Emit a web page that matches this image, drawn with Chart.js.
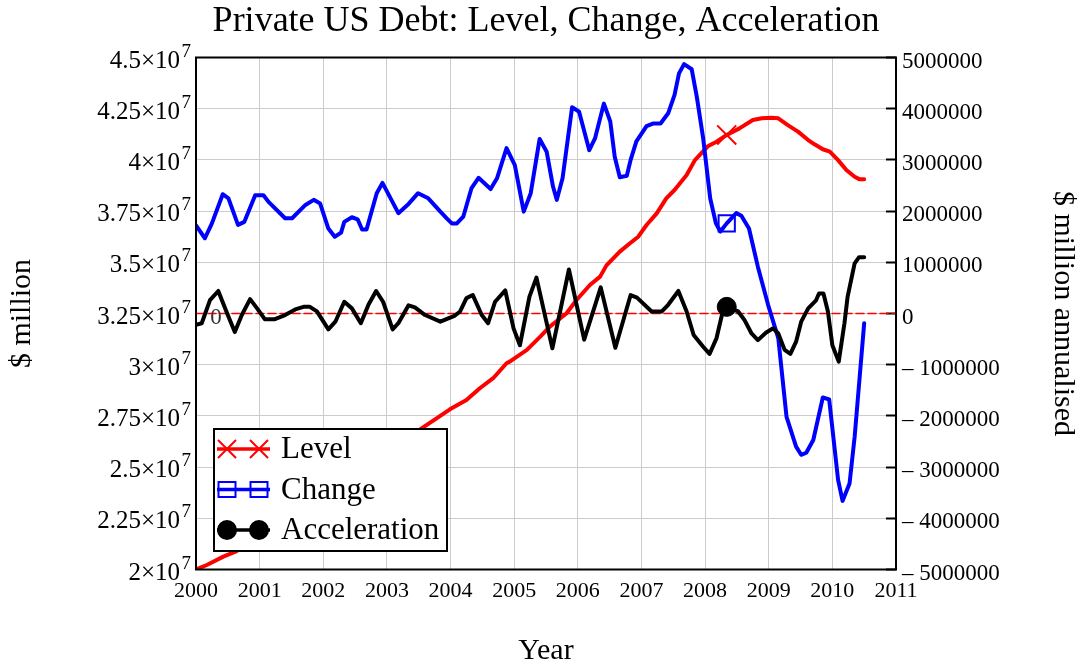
<!DOCTYPE html>
<html>
<head>
<meta charset="utf-8">
<title>Private US Debt: Level, Change, Acceleration</title>
<script src="https://cdn.jsdelivr.net/npm/chart.js@4.4.1/dist/chart.umd.min.js"></script>
<style>
  html, body { margin: 0; padding: 0; background: #fff; }
  #chart { display: block; }
</style>
</head>
<body>
<canvas id="chart" width="1077" height="668"></canvas>
<script>
const serif = '"Liberation Serif", "Times New Roman", Times, serif';

// Level of private debt ($ million), left axis
const levelYears = [2000.00, 2000.17, 2000.43, 2000.62, 2001.00, 2001.50, 2002.00, 2002.50, 2003.00,
    2003.55, 2003.78, 2003.99, 2004.25, 2004.46, 2004.67, 2004.88, 2004.93, 2005.20, 2005.41,
    2005.56, 2005.82, 2005.98, 2006.19, 2006.35, 2006.45, 2006.66, 2006.82, 2006.95, 2007.08,
    2007.24, 2007.39, 2007.52, 2007.71, 2007.84, 2008.05, 2008.18, 2008.34, 2008.54, 2008.75,
    2008.89, 2009.04, 2009.15, 2009.30, 2009.46, 2009.62, 2009.72, 2009.85, 2009.96, 2010.09,
    2010.22, 2010.35, 2010.43, 2010.50];
const levelValues = [2.000e7, 2.022e7, 2.063e7, 2.087e7, 2.160e7, 2.270e7, 2.370e7, 2.470e7, 2.570e7,
    2.690e7, 2.738e7, 2.782e7, 2.828e7, 2.885e7, 2.934e7, 3.007e7, 3.015e7, 3.072e7, 3.137e7,
    3.186e7, 3.250e7, 3.316e7, 3.389e7, 3.430e7, 3.485e7, 3.552e7, 3.593e7, 3.625e7, 3.682e7,
    3.739e7, 3.812e7, 3.853e7, 3.926e7, 3.999e7, 4.068e7, 4.089e7, 4.122e7, 4.154e7, 4.195e7,
    4.203e7, 4.206e7, 4.203e7, 4.170e7, 4.138e7, 4.097e7, 4.076e7, 4.052e7, 4.040e7, 3.999e7,
    3.951e7, 3.918e7, 3.905e7, 3.905e7];

// Change in debt ($ million annualised), right axis
const changeYears = [2000.00, 2000.14, 2000.25, 2000.42, 2000.51, 2000.66, 2000.76, 2000.93, 2001.06,
    2001.14, 2001.40, 2001.51, 2001.72, 2001.85, 2001.95, 2002.08, 2002.18, 2002.28, 2002.33,
    2002.45, 2002.54, 2002.61, 2002.68, 2002.84, 2002.93, 2003.18, 2003.34, 2003.49, 2003.65,
    2003.84, 2003.94, 2004.02, 2004.10, 2004.20, 2004.33, 2004.44, 2004.63, 2004.73, 2004.88,
    2005.01, 2005.15, 2005.26, 2005.40, 2005.51, 2005.61, 2005.67, 2005.76, 2005.91, 2006.02,
    2006.18, 2006.27, 2006.41, 2006.51, 2006.58, 2006.66, 2006.77, 2006.83, 2006.92, 2007.08,
    2007.18, 2007.30, 2007.42, 2007.52, 2007.59, 2007.67, 2007.79, 2007.87, 2007.97, 2008.08,
    2008.17, 2008.24, 2008.34, 2008.49, 2008.57, 2008.69, 2008.83, 2008.99, 2009.15, 2009.28,
    2009.43, 2009.51, 2009.59, 2009.70, 2009.85, 2009.95, 2010.09, 2010.16, 2010.27, 2010.35,
    2010.50];
const changeValues = [1.72e6, 1.47e6, 1.76e6, 2.33e6, 2.25e6, 1.73e6, 1.79e6, 2.31e6, 2.31e6,
    2.18e6, 1.86e6, 1.86e6, 2.12e6, 2.22e6, 2.15e6, 1.66e6, 1.50e6, 1.58e6, 1.79e6,
    1.88e6, 1.84e6, 1.64e6, 1.64e6, 2.35e6, 2.55e6, 1.96e6, 2.14e6, 2.35e6, 2.25e6,
    1.99e6, 1.86e6, 1.76e6, 1.76e6, 1.89e6, 2.45e6, 2.65e6, 2.43e6, 2.64e6, 3.23e6,
    2.90e6, 1.99e6, 2.35e6, 3.41e6, 3.16e6, 2.48e6, 2.22e6, 2.64e6, 4.03e6, 3.94e6,
    3.19e6, 3.42e6, 4.10e6, 3.75e6, 3.06e6, 2.66e6, 2.69e6, 3.00e6, 3.36e6, 3.66e6,
    3.71e6, 3.71e6, 3.91e6, 4.27e6, 4.69e6, 4.87e6, 4.77e6, 4.23e6, 3.42e6, 2.25e6,
    1.76e6, 1.60e6, 1.76e6, 1.96e6, 1.91e6, 1.66e6, 0.91e6, 0.17e6, -0.48e6, -2.02e6,
    -2.60e6, -2.76e6, -2.72e6, -2.47e6, -1.64e6, -1.68e6, -3.25e6, -3.66e6, -3.32e6, -2.41e6,
    -0.19e6];

// Acceleration of debt ($ million annualised), right axis
const accelYears = [2000.00, 2000.09, 2000.22, 2000.35, 2000.49, 2000.61, 2000.72, 2000.85, 2000.96,
    2001.08, 2001.24, 2001.40, 2001.56, 2001.69, 2001.79, 2001.90, 2002.08, 2002.19, 2002.33,
    2002.45, 2002.59, 2002.71, 2002.83, 2002.94, 2003.09, 2003.18, 2003.34, 2003.44, 2003.60,
    2003.84, 2004.07, 2004.15, 2004.25, 2004.35, 2004.49, 2004.59, 2004.70, 2004.86, 2004.99,
    2005.09, 2005.24, 2005.35, 2005.60, 2005.86, 2006.10, 2006.36, 2006.59, 2006.83, 2006.93,
    2007.16, 2007.32, 2007.42, 2007.58, 2007.71, 2007.82, 2007.97, 2008.07, 2008.18, 2008.27,
    2008.34, 2008.52, 2008.62, 2008.73, 2008.83, 2008.96, 2009.07, 2009.15, 2009.25, 2009.34,
    2009.43, 2009.51, 2009.62, 2009.74, 2009.79, 2009.86, 2009.93, 2010.00, 2010.10, 2010.19,
    2010.24, 2010.35, 2010.42, 2010.50];
const accelValues = [-0.22e6, -0.19e6, 0.26e6, 0.44e6, 0.00e6, -0.36e6, -0.03e6, 0.28e6, 0.10e6,
    -0.11e6, -0.11e6, -0.03e6, 0.08e6, 0.13e6, 0.13e6, 0.04e6, -0.31e6, -0.16e6, 0.23e6,
    0.10e6, -0.19e6, 0.17e6, 0.44e6, 0.23e6, -0.31e6, -0.19e6, 0.16e6, 0.12e6, -0.03e6,
    -0.16e6, -0.04e6, 0.04e6, 0.30e6, 0.36e6, -0.03e6, -0.19e6, 0.23e6, 0.45e6, -0.29e6,
    -0.62e6, 0.33e6, 0.70e6, -0.68e6, 0.86e6, -0.51e6, 0.51e6, -0.67e6, 0.36e6, 0.31e6,
    0.04e6, 0.04e6, 0.17e6, 0.44e6, 0.04e6, -0.42e6, -0.65e6, -0.79e6, -0.48e6, 0.00e6,
    0.13e6, 0.04e6, -0.13e6, -0.39e6, -0.52e6, -0.37e6, -0.29e6, -0.39e6, -0.71e6, -0.79e6,
    -0.55e6, -0.16e6, 0.10e6, 0.25e6, 0.39e6, 0.39e6, 0.04e6, -0.62e6, -0.94e6, -0.19e6,
    0.33e6, 0.98e6, 1.10e6, 1.10e6];

// zero reference line on the right axis
const zeroYears = [2000, 2011];
const zeroValues = [0, 0];

// the one point where each trace carries its symbol
const markerYear = 2008.34;

const toPoints = (xs, ys) => xs.map((x, i) => ({ x: x, y: ys[i] }));
const atMarker = r => ctx => (ctx.raw && ctx.raw.x === markerYear) ? r : 0;

Chart.defaults.font.family = serif;
Chart.defaults.color = '#000';

const overlay = {
    id: 'overlay',
    afterDatasetsDraw(chart) {
        const { ctx, chartArea: a } = chart;
        ctx.save();
        ctx.strokeStyle = '#000';
        ctx.lineWidth = 2;
        ctx.strokeRect(a.left, a.top, a.right - a.left, a.bottom - a.top);
        ctx.restore();
    },
    afterDraw(chart) {
        const { ctx, chartArea: a } = chart;
        const ys = chart.scales.y;
        const y1 = chart.scales.y1;
        ctx.save();

        // left tick labels with a raised exponent
        ys.ticks.forEach(t => {
            const py = ys.getPixelForValue(t.value);
            ctx.fillStyle = '#000';
            ctx.textBaseline = 'alphabetic';
            ctx.font = '25px ' + serif;
            ctx.textAlign = 'right';
            ctx.fillText(+(t.value / 1e7).toFixed(2) + '\u00d710', a.left - 16, py + 10);
            ctx.font = '19px ' + serif;
            ctx.textAlign = 'left';
            ctx.fillText('7', a.left - 14.5, py - 1);
        });

        // label of the zero line
        ctx.font = '23px ' + serif;
        ctx.fillStyle = '#333';
        ctx.textAlign = 'center';
        ctx.fillText('0', a.left + 20, y1.getPixelForValue(0) + 10.5);

        // legend box
        const box = { x: 214, y: 429, w: 233, h: 122 };
        ctx.fillStyle = '#fff';
        ctx.fillRect(box.x, box.y, box.w, box.h);
        ctx.strokeStyle = '#000';
        ctx.lineWidth = 2;
        ctx.strokeRect(box.x, box.y, box.w, box.h);

        const entries = chart.data.datasets.filter(d => !d.hideInLegend);
        entries.forEach((d, i) => {
            const ry = box.y + 20 + i * 40.5;
            ctx.strokeStyle = d.borderColor;
            ctx.lineWidth = 3.5;
            ctx.beginPath();
            ctx.moveTo(box.x + 3, ry);
            ctx.lineTo(box.x + 56, ry);
            ctx.stroke();
            [box.x + 13, box.x + 45].forEach(mx => {
                ctx.lineWidth = 2;
                ctx.beginPath();
                if (d.pointStyle === 'crossRot') {
                    ctx.moveTo(mx - 9, ry - 9); ctx.lineTo(mx + 9, ry + 9);
                    ctx.moveTo(mx + 9, ry - 9); ctx.lineTo(mx - 9, ry + 9);
                    ctx.stroke();
                } else if (d.pointStyle === 'rect') {
                    ctx.rect(mx - 8.5, ry - 7.5, 17, 15);
                    ctx.stroke();
                } else {
                    ctx.fillStyle = d.borderColor;
                    ctx.arc(mx, ry, 10, 0, Math.PI * 2);
                    ctx.fill();
                }
            });
            ctx.fillStyle = '#000';
            ctx.font = '31px ' + serif;
            ctx.textAlign = 'left';
            ctx.textBaseline = 'middle';
            ctx.fillText(d.label, box.x + 67, ry + 1);
        });
        ctx.restore();
    }
};

new Chart(document.getElementById('chart').getContext('2d'), {
    type: 'line',
    data: {
        datasets: [
            {
                label: 'Level',
                data: toPoints(levelYears, levelValues),
                yAxisID: 'y',
                borderColor: '#ff0000',
                borderWidth: 4,
                pointStyle: 'crossRot',
                pointRadius: atMarker(13.5),
                pointBorderWidth: 2,
                pointBackgroundColor: 'rgba(0,0,0,0)',
                order: 3
            },
            {
                label: 'Change',
                data: toPoints(changeYears, changeValues),
                yAxisID: 'y1',
                borderColor: '#0000ff',
                borderWidth: 4,
                pointStyle: 'rect',
                pointRadius: atMarker(11.5),
                pointBorderWidth: 2,
                pointBackgroundColor: 'rgba(0,0,0,0)',
                order: 2
            },
            {
                label: 'Acceleration',
                data: toPoints(accelYears, accelValues),
                yAxisID: 'y1',
                borderColor: '#000000',
                borderWidth: 4,
                pointStyle: 'circle',
                pointRadius: atMarker(9.5),
                pointBorderWidth: 1,
                pointBackgroundColor: '#000000',
                order: 1
            },
            {
                label: 'zero',
                hideInLegend: true,
                data: toPoints(zeroYears, zeroValues),
                yAxisID: 'y1',
                borderColor: '#ff0000',
                borderWidth: 1.5,
                borderDash: [8, 4],
                pointRadius: 0,
                order: 4
            }
        ]
    },
    options: {
        responsive: false,
        animation: false,
        events: [],
        elements: {
            line: { tension: 0, borderJoinStyle: 'round', borderCapStyle: 'round' },
            point: { hoverRadius: 0 }
        },
        layout: { padding: 0 },
        plugins: {
            legend: { display: false },
            tooltip: { enabled: false },
            title: {
                display: true,
                fullSize: false,
                text: 'Private US Debt: Level, Change, Acceleration',
                font: { family: serif, size: 36, weight: 'normal' },
                color: '#000',
                padding: { top: 0, bottom: 14.3 }
            }
        },
        scales: {
            x: {
                type: 'linear',
                position: 'bottom',
                min: 2000,
                max: 2011,
                ticks: {
                    stepSize: 1,
                    autoSkip: false,
                    maxRotation: 0,
                    padding: 9,
                    font: { size: 22 },
                    color: '#000',
                    callback: v => String(v)
                },
                grid: { color: '#cccccc', lineWidth: 1, drawTicks: false },
                border: { display: false },
                title: { display: true, text: 'Year', font: { size: 30 }, color: '#000', padding: { top: 0, bottom: -1 } },
                afterFit: s => { s.height = 98.5; }
            },
            y: {
                type: 'linear',
                position: 'left',
                min: 2e7,
                max: 4.5e7,
                ticks: { stepSize: 2.5e6, display: false },
                grid: { color: '#cccccc', lineWidth: 1, drawTicks: false },
                border: { display: false },
                title: { display: true, text: '$ million', font: { size: 30 }, color: '#000', padding: { top: 4, bottom: 0 } },
                afterFit: s => { s.width = 196; }
            },
            y1: {
                type: 'linear',
                position: 'right',
                min: -5e6,
                max: 5e6,
                ticks: {
                    stepSize: 1e6,
                    autoSkip: false,
                    padding: 16,
                    labelOffset: 4,
                    font: { size: 23 },
                    color: '#000',
                    callback: v => v < 0 ? '\u2013 ' + Math.abs(v) : String(v)
                },
                grid: { drawOnChartArea: false, tickLength: -10, tickColor: '#000', tickWidth: 2 },
                border: { display: false },
                title: { display: true, text: '$ million annualised', font: { size: 30 }, color: '#000', padding: { top: -4, bottom: 0 } },
                afterFit: s => { s.width = 181; }
            }
        }
    },
    plugins: [overlay]
});
</script>
</body>
</html>
